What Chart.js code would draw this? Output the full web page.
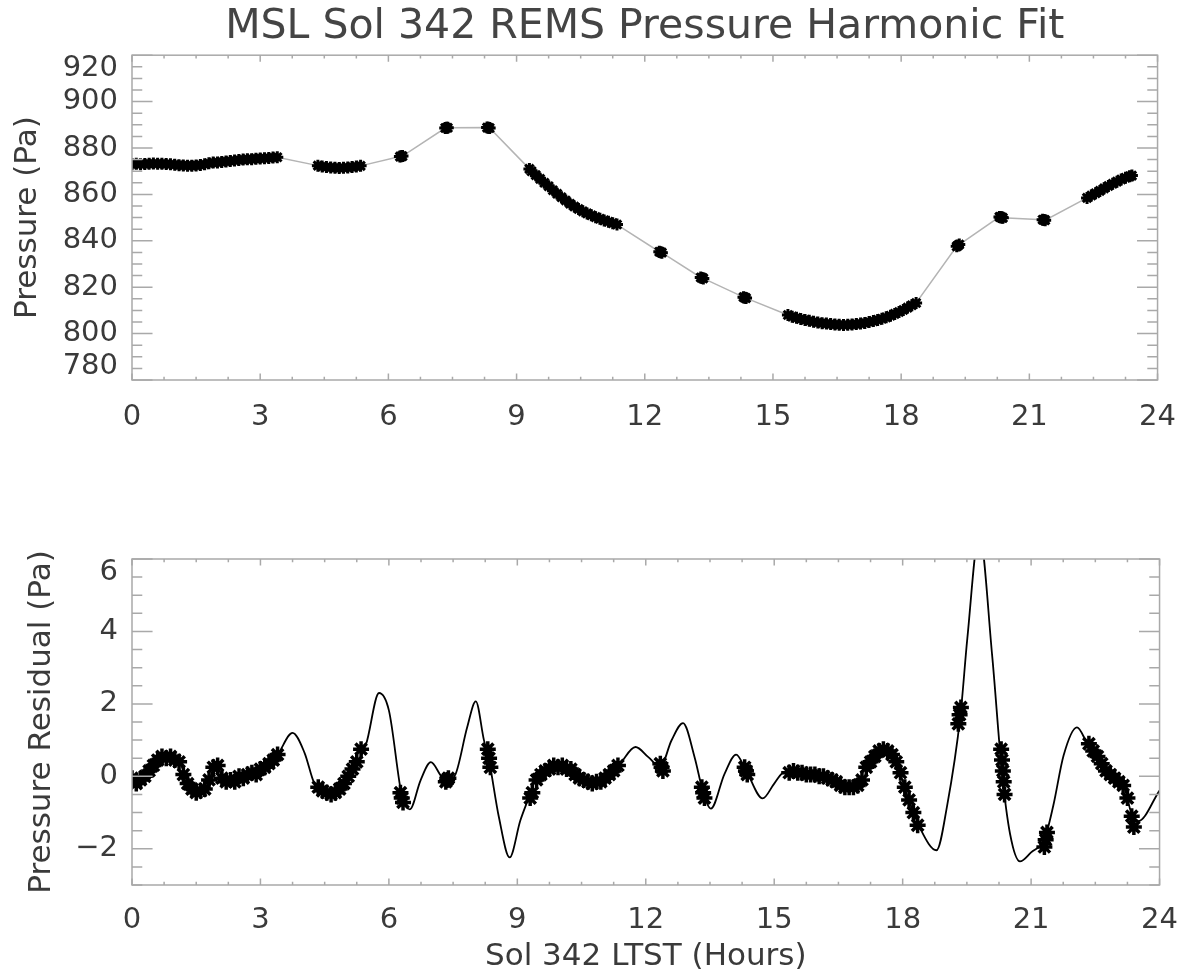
<!DOCTYPE html>
<html>
<head>
<meta charset="utf-8">
<title>MSL Sol 342 REMS Pressure Harmonic Fit</title>
<script src="https://cdn.jsdelivr.net/npm/chart.js@4.4.0/dist/chart.umd.min.js"></script>
<style>
  html, body { margin: 0; padding: 0; background: #fff; }
  #pagina { position: relative; width: 1196px; height: 976px; }
  .painel { position: absolute; left: 0; width: 1196px; }
  #painel-pressao { top: 0; height: 470px; }
  #painel-residuo { top: 470px; height: 506px; }
</style>
</head>
<body>
<div id="pagina">
  <div class="painel" id="painel-pressao"><canvas id="grafico-pressao"></canvas></div>
  <div class="painel" id="painel-residuo"><canvas id="grafico-residuo"></canvas></div>
</div>
<script>
// horas LTST de cada amostra (blocos continuos + sessoes curtas)
const horas = [
  0.0, 0.1, 0.2, 0.3, 0.4, 0.5, 0.6, 0.7, 0.8, 0.9, 1.0, 1.1, 1.2, 1.3, 1.4, 1.5, 1.6, 1.7,
  1.8, 1.9, 2.0, 2.1, 2.2, 2.3, 2.4, 2.5, 2.6, 2.7, 2.8, 2.9, 3.0, 3.1, 3.2, 3.3, 3.4,
  4.35, 4.45, 4.55, 4.65, 4.75, 4.85, 4.95, 5.05, 5.15, 5.25, 5.35,
  6.27, 6.3, 6.33,
  7.33, 7.36, 7.39,
  8.31, 8.34, 8.37,
  9.3, 9.35, 9.45, 9.55, 9.65, 9.75, 9.85, 9.95, 10.05, 10.15, 10.25, 10.35, 10.45, 10.55,
  10.65, 10.75, 10.85, 10.95, 11.05, 11.15, 11.25, 11.35,
  12.34, 12.37, 12.4,
  13.31, 13.34, 13.37,
  14.31, 14.34, 14.37,
  15.35, 15.45, 15.55, 15.65, 15.75, 15.85, 15.95, 16.05, 16.15, 16.25, 16.35, 16.45, 16.55,
  16.65, 16.75, 16.85, 16.95, 17.05, 17.15, 17.25, 17.35, 17.45, 17.55, 17.65, 17.75, 17.85,
  17.95, 18.05, 18.15, 18.25, 18.35,
  19.3, 19.33, 19.36,
  20.3, 20.32, 20.34, 20.36, 20.38,
  21.31, 21.34, 21.37,
  22.35, 22.45, 22.55, 22.65, 22.75, 22.85, 22.95, 23.05, 23.15, 23.25, 23.35, 23.4
];

// pressao medida (Pa)
const pressao = [
  873.0, 873.2, 873.0, 873.1, 873.2, 873.3, 873.2, 873.2, 873.1, 873.0, 872.8, 872.6, 872.5,
  872.4, 872.4, 872.5, 872.7, 873.0, 873.4, 873.7, 873.8, 874.0, 874.2, 874.4, 874.6, 874.8,
  875.0, 875.1, 875.2, 875.4, 875.5, 875.6, 875.7, 875.9, 876.0,
  872.4, 872.0, 871.8, 871.6, 871.5, 871.4, 871.5, 871.6, 871.8, 872.0, 872.3,
  876.3, 876.4, 876.5,
  888.6, 888.7, 888.7,
  888.8, 888.7, 888.6,
  871.0, 870.0, 868.3, 866.7, 865.0, 863.5, 861.8, 860.3, 858.8, 857.4, 856.0, 854.8, 853.7,
  852.7, 851.8, 851.0, 850.2, 849.5, 848.8, 848.2, 847.6, 847.0,
  835.3, 835.1, 834.9,
  824.2, 824.0, 823.8,
  815.7, 815.5, 815.3,
  808.0, 807.3, 806.8, 806.3, 805.9, 805.5, 805.1, 804.8, 804.5, 804.3, 804.1, 803.9, 803.8,
  803.7, 803.8, 803.9, 804.1, 804.3, 804.6, 805.0, 805.4, 805.9, 806.4, 807.0, 807.7, 808.5,
  809.3, 810.2, 811.2, 812.2, 813.2,
  837.6, 838.0, 838.4,
  850.3, 850.2, 850.1, 850.0, 849.9,
  849.1, 849.0, 848.9,
  858.5, 859.5, 860.5, 861.5, 862.6, 863.6, 864.6, 865.5, 866.4, 867.2, 867.8, 868.1
];

// residuo da pressao em relacao ao ajuste (Pa)
const residuo = [
  -0.05, -0.2, -0.1, 0.0, 0.15, 0.3, 0.45, 0.55, 0.5, 0.55, 0.45, 0.4, 0.05, -0.2, -0.35,
  -0.45, -0.4, -0.35, -0.1, 0.25, 0.3, -0.05, -0.15, -0.1, -0.15, 0.0, -0.05, 0.05, 0.1,
  0.05, 0.2, 0.25, 0.35, 0.45, 0.6,
  -0.3, -0.4, -0.45, -0.5, -0.45, -0.35, -0.2, 0.0, 0.2, 0.4, 0.75,
  -0.45, -0.6, -0.72,
  -0.15, -0.1, -0.05,
  0.75, 0.5, 0.25,
  -0.6, -0.45, -0.1, 0.05, 0.15, 0.2, 0.3, 0.25, 0.3, 0.2, 0.2, 0.05, -0.05, -0.1, -0.15,
  -0.2, -0.15, -0.15, -0.05, 0.05, 0.15, 0.3,
  0.35, 0.25, 0.15,
  -0.3, -0.45, -0.6,
  0.25, 0.15, 0.05,
  0.1, 0.15, 0.1, 0.1, 0.05, 0.05, 0.05, 0.0, 0.0, -0.05, -0.1, -0.15, -0.25, -0.3, -0.3,
  -0.3, -0.25, -0.1, 0.25, 0.4, 0.55, 0.7, 0.75, 0.7, 0.6, 0.4, 0.1, -0.3, -0.65, -1.0, -1.35,
  1.45, 1.7, 1.9,
  0.75, 0.45, 0.15, -0.15, -0.5,
  -1.95, -1.75, -1.55,
  0.9, 0.7, 0.55, 0.35, 0.15, 0.05, -0.05, -0.15, -0.25, -0.6, -1.1, -1.4
];

// curva continua do residuo do ajuste harmonico
const ajusteHoras = [
  0.0, 0.3, 0.8, 1.05, 1.5, 1.75, 1.95, 2.2, 2.5, 3.0, 3.4, 3.75, 4.03, 4.26, 4.6, 5.0,
  5.47, 5.77, 6.0, 6.31, 6.49, 6.74, 6.98, 7.24, 7.36, 7.56, 7.83, 8.03, 8.22, 8.33, 8.57,
  8.82, 9.07, 9.26, 9.42, 9.9, 10.2, 10.75, 11.13, 11.4, 11.76, 12.06, 12.34, 12.6, 12.87,
  13.14, 13.34, 13.52, 13.84, 14.11, 14.34, 14.73, 15.0, 15.24, 15.55, 16.09, 16.7, 17.0,
  17.5, 17.8, 18.1, 18.41, 18.79, 19.04, 19.35, 19.51, 19.79, 20.09, 20.32, 20.51, 20.74,
  21.0, 21.32, 21.52, 21.76, 22.07, 22.3, 22.77, 23.16, 23.4, 23.5, 24.0
];
const ajusteResiduo = [
  -0.1, -0.05, 0.5, 0.45, -0.45, -0.3, 0.3, -0.15, -0.05, 0.15, 0.6, 1.2, 0.65, -0.2, -0.5,
  -0.1, 0.9, 2.3, 1.82, -0.58, -0.91, -0.11, 0.39, -0.02, -0.11, 0.07, 1.36, 2.07, 1.0, 0.5,
  -1.13, -2.24, -1.22, -0.61, -0.1, 0.26, 0.2, -0.2, 0.03, 0.35, 0.81, 0.53, 0.26, 0.99, 1.47,
  0.53, -0.44, -0.89, 0.07, 0.6, 0.17, -0.61, -0.2, 0.12, 0.12, 0.03, -0.3, -0.2, 0.75, 0.55,
  -0.5, -1.44, -2.04, -0.8, 1.69, 3.8, 6.7, 3.34, 0.1, -1.6, -2.35, -2.1, -1.71, -0.8, 0.58,
  1.35, 0.94, 0.1, -0.25, -1.2, -1.24, -0.39
];

const fonte = "'DejaVu Sans', sans-serif";
const corTexto = "#3a3a3a";

// caixa fechada com marcas para dentro nos quatro lados (estilo IDL)
const molduraPlugin = {
  id: "moldura",
  afterDraw(chart, args, opts) {
    const ctx = chart.ctx;
    const area = chart.chartArea;
    const x = chart.scales.x;
    const y = chart.scales.y;
    const tickX = (area.bottom - area.top) * 0.02;
    const tickY = (area.right - area.left) * 0.02;
    ctx.save();
    ctx.strokeStyle = "#a9a9a9";
    ctx.lineWidth = 1.5;
    ctx.strokeRect(area.left, area.top, area.right - area.left, area.bottom - area.top);
    ctx.beginPath();
    const nx = Math.round((x.max - x.min) / opts.xMenor);
    for (let i = 0; i <= nx; i++) {
      const v = x.min + i * opts.xMenor;
      const px = x.getPixelForValue(v);
      const maior = Math.abs(v / opts.xMaior - Math.round(v / opts.xMaior)) < 1e-6;
      const len = maior ? tickX : tickX / 2;
      ctx.moveTo(px, area.bottom);
      ctx.lineTo(px, area.bottom - len);
      ctx.moveTo(px, area.top);
      ctx.lineTo(px, area.top + len);
    }
    const ny = Math.round((y.max - y.min) / opts.yMenor);
    for (let j = 0; j <= ny; j++) {
      const v = y.min + j * opts.yMenor;
      const py = y.getPixelForValue(v);
      const maior = Math.abs(v / opts.yMaior - Math.round(v / opts.yMaior)) < 1e-6;
      const len = maior ? tickY : tickY / 2;
      ctx.moveTo(area.left, py);
      ctx.lineTo(area.left + len, py);
      ctx.moveTo(area.right, py);
      ctx.lineTo(area.right - len, py);
    }
    ctx.stroke();
    ctx.restore();
  },
};

function eixoX(titulo, altura, pad) {
  return {
    type: "linear",
    min: 0,
    max: 24,
    grid: { display: false, drawTicks: false },
    border: { display: false },
    ticks: {
      stepSize: 3,
      autoSkip: false,
      maxRotation: 0,
      padding: pad,
      color: corTexto,
      font: { family: fonte, size: 29 },
    },
    title: {
      display: titulo !== "",
      text: titulo,
      color: corTexto,
      padding: { top: 0, bottom: 0 },
      font: { family: fonte, size: 31 },
    },
    afterFit: (s) => {
      s.height = altura;
    },
  };
}

function eixoY(min, max, passo, titulo, padTitulo, rotulo) {
  return {
    type: "linear",
    min: min,
    max: max,
    grid: { display: false, drawTicks: false },
    border: { display: false },
    ticks: {
      stepSize: passo,
      includeBounds: false,
      autoSkip: false,
      padding: 14,
      color: corTexto,
      font: { family: fonte, size: 29, lineHeight: 0.9 },
      callback: rotulo,
    },
    title: {
      display: true,
      text: titulo,
      color: corTexto,
      padding: { top: padTitulo, bottom: 0 },
      font: { family: fonte, size: 31 },
    },
    afterFit: (s) => {
      s.width = 132;
    },
  };
}

function grafico() {
  let ctx1 = document.getElementById("grafico-pressao").getContext("2d");
  let chart1 = new Chart(ctx1, {
    type: "line",
    data: {
      datasets: [
        {
          label: "Pressure",
          data: horas.map((h, i) => ({ x: h, y: pressao[i] })),
          borderColor: "#b4b4b4",
          borderWidth: 1.5,
          tension: 0,
          pointStyle: "star",
          pointRadius: 6,
          pointBorderWidth: 3,
          pointBorderColor: "#000000",
          pointBackgroundColor: "#000000",
        },
      ],
    },
    options: {
      responsive: true,
      maintainAspectRatio: false,
      animation: false,
      layout: { padding: { left: 0, right: 33, top: 0, bottom: 0 } },
      plugins: {
        legend: { display: false },
        tooltip: { enabled: false },
        title: {
          display: true,
          fullSize: false,
          text: "MSL Sol 342 REMS Pressure Harmonic Fit",
          color: "#444444",
          font: { family: fonte, size: 41, weight: "normal" },
          padding: { top: 3, bottom: 3 },
        },
        moldura: { xMenor: 0.75, xMaior: 3, yMenor: 5, yMaior: 20 },
      },
      scales: {
        x: eixoX("", 90, 20),
        y: eixoY(780, 920, 20, "Pressure (Pa)", 9, (v) => {
          if (v === 920) return ["", "920"];
          if (v === 780) return ["780", ""];
          return String(v);
        }),
      },
    },
    plugins: [molduraPlugin],
  });

  let ctx2 = document.getElementById("grafico-residuo").getContext("2d");
  let chart2 = new Chart(ctx2, {
    type: "line",
    data: {
      datasets: [
        {
          label: "Residual",
          data: horas.map((h, i) => ({ x: h, y: residuo[i] })),
          showLine: false,
          pointStyle: "star",
          pointRadius: 8,
          pointBorderWidth: 3.5,
          pointBorderColor: "#000000",
          pointBackgroundColor: "#000000",
        },
        {
          label: "Fit",
          data: ajusteHoras.map((h, i) => ({ x: h, y: ajusteResiduo[i] })),
          borderColor: "#000000",
          borderWidth: 1.8,
          cubicInterpolationMode: "monotone",
          pointRadius: 0,
        },
      ],
    },
    options: {
      responsive: true,
      maintainAspectRatio: false,
      animation: false,
      layout: { padding: { left: 0, right: 33, top: 89, bottom: 0 } },
      plugins: {
        legend: { display: false },
        tooltip: { enabled: false },
        moldura: { xMenor: 0.75, xMaior: 3, yMenor: 0.5, yMaior: 2 },
      },
      scales: {
        x: eixoX("Sol 342 LTST (Hours)", 91, 18),
        y: eixoY(-3, 6, 2, "Pressure Residual (Pa)", 23, (v) => {
          if (v === 6) return ["", "6"];
          if (v < 0) return "\u2212" + Math.abs(v);
          return String(v);
        }),
      },
    },
    plugins: [molduraPlugin],
  });
}

grafico();
</script>
</body>
</html>
